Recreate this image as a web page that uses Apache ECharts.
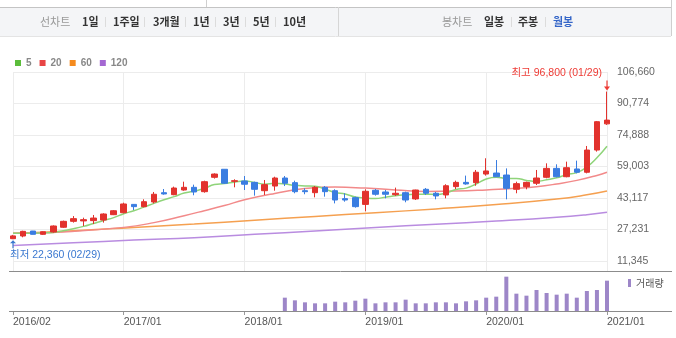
<!DOCTYPE html>
<html><head><meta charset="utf-8">
<script src="https://cdn.jsdelivr.net/npm/echarts@6/dist/echarts.min.js"></script>
<style>html,body{margin:0;padding:0;background:#fff}#c{width:676px;height:338px}</style>
</head><body><div id="c"></div>
<script>
const months = ['2016/02','2016/03','2016/04','2016/05','2016/06','2016/07','2016/08','2016/09','2016/10','2016/11','2016/12',
'2017/01','2017/02','2017/03','2017/04','2017/05','2017/06','2017/07','2017/08','2017/09','2017/10','2017/11','2017/12',
'2018/01','2018/02','2018/03','2018/04','2018/05','2018/06','2018/07','2018/08','2018/09','2018/10','2018/11','2018/12',
'2019/01','2019/02','2019/03','2019/04','2019/05','2019/06','2019/07','2019/08','2019/09','2019/10','2019/11','2019/12',
'2020/01','2020/02','2020/03','2020/04','2020/05','2020/06','2020/07','2020/08','2020/09','2020/10','2020/11','2020/12',
'2021/01'];
const xTickLabels = ['2016/02','2017/01','2018/01','2019/01','2020/01','2021/01'];
const yTickValues = [11345, 27231, 43117, 59003, 74888, 90774, 106660];

const opens = [22600,23950,26450,24800,25950,28350,31350,31550,31700,32000,34700,35700,39900,38750,41100,45800,44800,47150,48500,46300,53550,57600,51500,51700,51000,46800,49150,53200,50850,46800,45800,48500,46800,42800,43300,39900,47000,46150,44800,45800,42650,47500,45500,44650,48850,51000,50850,55200,55700,54700,47500,48850,50550,53550,58050,53850,57750,56100,67300,80500];
const closes = [24000,26300,24800,26100,29000,31350,32700,32200,33000,35050,36700,40100,38750,41250,45000,45150,48150,48500,46150,51350,55200,50550,51850,50050,47500,49850,53200,50550,46300,46300,48500,46300,42100,42100,38750,46500,45000,45000,45500,42100,47150,45500,44150,49300,51000,50200,56100,56750,53850,48000,50350,51000,53200,58050,53850,58400,56100,67300,81600,82400];
const lows = [22360,23300,24700,24500,25600,28000,30700,29000,30000,30700,34500,35400,37050,38400,40400,44800,44500,46800,44500,45800,52900,50200,48500,47150,44300,44650,46800,49150,45500,45000,43450,43800,40400,41250,38250,36400,44300,42950,44150,40950,42100,44650,42450,42950,47650,49800,49300,54400,53850,42450,45500,47500,49650,53050,53550,53550,55550,55550,66500,80000];
const highs = [24500,26600,26500,26300,29300,31700,34000,33200,34550,35400,37050,40750,40000,42450,46150,47650,48850,51350,49850,51850,55550,57600,52550,54200,51350,52200,53850,54200,51850,48000,49150,49150,47500,45500,43800,47500,47650,47150,48350,46300,47300,48150,46150,50050,51850,54400,57250,63150,62250,58050,51350,51350,57250,60600,60100,61450,61950,69350,81950,96800];

const ma5 = [25300,25400,25400,25500,25700,26600,27600,28800,30300,31800,33200,35200,36700,38500,40400,42200,43800,45600,46600,47900,49900,50400,51100,51700,51000,50100,50500,50200,49500,49200,49000,47600,45900,45100,43600,43100,42900,43500,44200,44800,45000,45000,44900,45600,47400,48100,50200,52700,53600,53000,53000,52000,51500,52300,53300,54900,55900,58700,63400,69200];
const ma20Pts = [[0,25300],[5,26000],[11,28300],[14,30700],[17,34200],[19,36700],[21,39300],[23,42200],[26,45400],[29,47900],[32,48600],[35,48100],[38,47200],[41,46400],[44,46600],[47,47200],[50,48000],[52,48800],[54,50200],[56,52000],[58,54500],[59,56100]];
const ma60Pts = [[0,25300],[6,26600],[12,28300],[18,30000],[24,31900],[30,33800],[36,35700],[42,37600],[48,39800],[54,42600],[57,44700],[59,46600]];
const ma120Pts = [[0,19100],[6,20500],[12,21900],[18,23100],[24,24800],[30,26500],[36,28200],[42,29900],[48,31500],[54,33400],[57,34700],[59,35900]];

const volume = [null,null,null,null,null,null,null,null,null,null,null,null,null,null,null,null,null,null,null,null,null,null,null,null,null,null,null,
40,32,26,23,23,28,26,31,
37,23,26,26,34,23,23,26,26,23,29,32,
40,43,103,52,46,63,54,49,52,40,60,63,
91];

const FONT = "'Liberation Sans','Noto Sans CJK KR',sans-serif";
const KFONT = "'Noto Sans CJK KR','Liberation Sans',sans-serif";

const candleData = months.map((m, i) => [opens[i], closes[i], lows[i], highs[i]]);
const hiIdx = highs.indexOf(Math.max(...highs));
const loIdx = lows.indexOf(Math.min(...lows));
const fmt = v => Math.round(v).toLocaleString('en-US');
const showTick = (idx, val) => xTickLabels.includes(val);

const topBar = [];
topBar.push({type:'rect', shape:{x:0,y:7,width:671,height:29}, style:{fill:'#f4f5f7'}, silent:true});
topBar.push({type:'line', shape:{x1:0,y1:7.5,x2:671,y2:7.5}, style:{stroke:'#c4c4c4',lineWidth:1}, silent:true});
topBar.push({type:'line', shape:{x1:0,y1:36.5,x2:671,y2:36.5}, style:{stroke:'#e4e4e4',lineWidth:1}, silent:true});
topBar.push({type:'line', shape:{x1:338.5,y1:7,x2:338.5,y2:36}, style:{stroke:'#d6d6d6',lineWidth:1}, silent:true});
topBar.push({type:'line', shape:{x1:671.5,y1:0,x2:671.5,y2:36}, style:{stroke:'#cfcfcf',lineWidth:1}, silent:true});
topBar.push({type:'line', shape:{x1:206.5,y1:0,x2:206.5,y2:7}, style:{stroke:'#cfcfcf',lineWidth:1}, silent:true});
const barTexts = [
  ['선차트',40,'#999','normal'],['1일',82,'#333','bold'],['1주일',113,'#333','bold'],['3개월',153,'#333','bold'],
  ['1년',193,'#333','bold'],['3년',223,'#333','bold'],['5년',253,'#333','bold'],['10년',283,'#333','bold'],
  ['봉차트',442,'#999','normal'],['일봉',484,'#333','bold'],['주봉',518,'#333','bold'],['월봉',553,'#3566c8','bold']
];
barTexts.forEach(t => topBar.push({type:'text', x:t[1], y:22, silent:true,
  style:{text:t[0], fill:t[2], fontWeight:t[3], fontSize:11, fontFamily:KFONT, verticalAlign:'middle'}}));
[105,144,185,215,245,275,511,545].forEach(x => topBar.push({type:'line', shape:{x1:x+0.5,y1:17,x2:x+0.5,y2:27}, style:{stroke:'#dcdcdc',lineWidth:1}, silent:true}));
// panel frame lines
topBar.push({type:'line', shape:{x1:9,y1:271.5,x2:672,y2:271.5}, style:{stroke:'#8c8c8c',lineWidth:1}, silent:true, z:10});
topBar.push({type:'line', shape:{x1:9,y1:311.5,x2:672,y2:311.5}, style:{stroke:'#8c8c8c',lineWidth:1}, silent:true, z:10});

const option = {
  animation: false,
  textStyle: {fontFamily: FONT},
  graphic: topBar,
  legend: [
    {data:['5','20','60','120'], left:10, top:53, icon:'rect', itemWidth:6, itemHeight:6, itemGap:8, selectedMode:false,
     textStyle:{color:'#888', fontSize:10, fontWeight:'bold', fontFamily:FONT}},
    {data:['거래량'], left:623, top:273, icon:'rect', itemWidth:3, itemHeight:8, selectedMode:false,
     textStyle:{color:'#555', fontSize:10, fontFamily:KFONT}}
  ],
  grid: [
    {left:13, right:69, top:72, height:199},
    {left:13, right:69, top:271, height:40}
  ],
  xAxis: [
    {type:'category', gridIndex:0, data:months, boundaryGap:false,
     axisLine:{show:false}, axisTick:{show:false}, axisLabel:{show:false},
     splitLine:{show:true, interval:showTick, lineStyle:{color:'#ececec'}}},
    {type:'category', gridIndex:1, data:months, boundaryGap:false,
     axisLine:{show:false},
     axisTick:{show:true, interval:showTick, length:4, lineStyle:{color:'#999'}},
     axisLabel:{interval:showTick, align:'left', color:'#555', fontSize:10.5, margin:6},
     splitLine:{show:false}}
  ],
  yAxis: [
    {type:'value', gridIndex:0, position:'right', min:6300, max:106660,
     axisLine:{show:false}, axisTick:{show:false, customValues:yTickValues},
     axisLabel:{customValues:yTickValues, formatter:fmt, color:'#666', fontSize:10.5, margin:10},
     splitLine:{show:true, lineStyle:{color:'#ececec'}}},
    {type:'value', gridIndex:1, min:0, max:120, show:false, splitLine:{show:false}}
  ],
  series: [
    {name:'120', type:'line', data:ma120Pts.map(p=>[months[p[0]],p[1]]), smooth:true, showSymbol:false, z:2,
     itemStyle:{color:'#a468d2'}, lineStyle:{color:'#b98ce0', width:1.5}},
    {name:'60', type:'line', data:ma60Pts.map(p=>[months[p[0]],p[1]]), smooth:true, showSymbol:false, z:2,
     itemStyle:{color:'#f58b1f'}, lineStyle:{color:'#f5a050', width:1.5}},
    {name:'20', type:'line', data:ma20Pts.map(p=>[months[p[0]],p[1]]), smooth:true, showSymbol:false, z:2,
     itemStyle:{color:'#e84545'}, lineStyle:{color:'#f28a8a', width:1.5}},
    {name:'5', type:'line', data:ma5, smooth:true, showSymbol:false, z:2,
     itemStyle:{color:'#5bbd3b'}, lineStyle:{color:'#8fd47a', width:1.5}},
    {name:'K', type:'candlestick', data:candleData, barWidth:6, clip:false, z:3,
     itemStyle:{color:'#e2322d', color0:'#3a7de1', borderColor:'#e2322d', borderColor0:'#3a7de1', borderWidth:1},
     markPoint:{
       animation:false,
       data:[
         {coord:[months[hiIdx], highs[hiIdx]], symbol:'path://M2.4,0 L3.6,0 L3.6,6 L6,6 L3,10 L0,6 L2.4,6 Z',
          symbolSize:[6,10], symbolOffset:[0,-6], itemStyle:{color:'#ee3b35'},
          label:{show:true, position:'left', distance:4, offset:[2,-12],
                 formatter:'최고 ' + fmt(highs[hiIdx]) + ' (01/29)', color:'#ee3b35', fontSize:10.5, fontFamily:FONT}},
         {coord:[months[loIdx], lows[loIdx]], symbol:'path://M3,0 L6,4 L3.6,4 L3.6,10 L2.4,10 L2.4,4 L0,4 Z',
          symbolSize:[6,8], symbolOffset:[0,5], itemStyle:{color:'#3a78d0'},
          label:{show:true, position:'bottom', distance:2, align:'left', offset:[-3,0],
                 formatter:'최저 ' + fmt(lows[loIdx]) + ' (02/29)', color:'#3a78d0', fontSize:10.5, fontFamily:FONT}}
       ]
     }},
    {name:'거래량', type:'bar', xAxisIndex:1, yAxisIndex:1, data:volume, barWidth:4,
     itemStyle:{color:'#9d86c8'}}
  ]
};
const chart = echarts.init(document.getElementById('c'), null, {renderer:'canvas'});
chart.setOption(option);
</script></body></html>
